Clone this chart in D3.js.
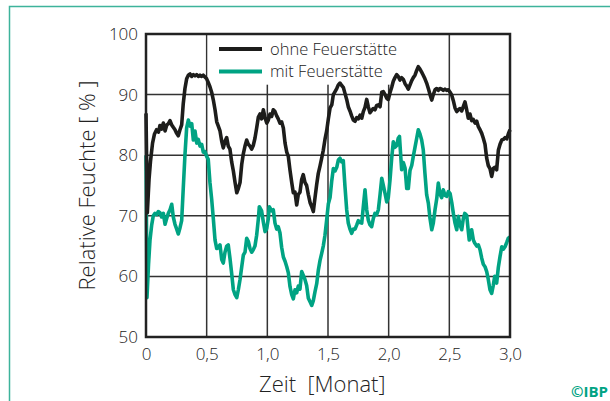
<!DOCTYPE html>
<html><head><meta charset="utf-8">
<script src="https://cdn.jsdelivr.net/npm/d3@7/dist/d3.min.js"></script>
<style>
html,body{margin:0;padding:0;background:#fff;}
svg{display:block;font-family:"Open Sans",sans-serif;font-weight:300;}
</style></head>
<body>
<svg id="c" width="610" height="401"></svg>
<script>
// ---- data ----
const seriesNames = ["ohne Feuerstätte", "mit Feuerstätte"];
const yTicks = [50, 60, 70, 80, 90, 100];
const xTicks = [0, 0.5, 1.0, 1.5, 2.0, 2.5, 3.0];
const xTickLabels = ["0", "0,5", "1,0", "1,5", "2,0", "2,5", "3,0"];

const zeitOhne = [0.000,0.011,0.025,0.037,0.054,0.070,0.087,0.103,0.115,0.128,0.143,0.157,0.171,0.185,0.198,0.212,0.225,0.239,0.253,0.266,0.280,0.294,0.307,0.321,0.335,0.349,0.363,0.377,0.390,0.404,0.418,0.431,0.445,0.459,0.472,0.486,0.500,0.513,0.527,0.541,0.555,0.569,0.583,0.596,0.610,0.624,0.637,0.651,0.665,0.678,0.692,0.706,0.720,0.734,0.748,0.761,0.775,0.789,0.802,0.816,0.830,0.843,0.857,0.871,0.884,0.898,0.912,0.926,0.940,0.953,0.967,0.981,0.995,1.008,1.022,1.036,1.049,1.063,1.077,1.090,1.104,1.118,1.132,1.146,1.160,1.173,1.187,1.201,1.214,1.228,1.242,1.255,1.269,1.283,1.296,1.310,1.324,1.338,1.352,1.366,1.379,1.393,1.407,1.420,1.434,1.448,1.461,1.475,1.489,1.503,1.517,1.531,1.544,1.558,1.572,1.585,1.599,1.613,1.626,1.640,1.654,1.667,1.681,1.695,1.709,1.723,1.737,1.750,1.764,1.778,1.791,1.805,1.819,1.832,1.846,1.860,1.873,1.887,1.901,1.915,1.929,1.943,1.956,1.970,1.984,1.997,2.011,2.025,2.038,2.052,2.066,2.079,2.093,2.107,2.121,2.135,2.149,2.162,2.176,2.190,2.203,2.217,2.231,2.244,2.258,2.272,2.285,2.299,2.313,2.327,2.341,2.355,2.368,2.382,2.396,2.409,2.423,2.437,2.450,2.464,2.478,2.492,2.506,2.520,2.533,2.547,2.561,2.574,2.588,2.602,2.615,2.629,2.643,2.656,2.670,2.684,2.698,2.712,2.726,2.739,2.753,2.767,2.780,2.794,2.808,2.821,2.835,2.849,2.862,2.876,2.890,2.904,2.918,2.932,2.945,2.959,2.973,2.986,3.000];
const ohne = [86.9,70.5,76.0,79.0,82.0,83.5,84.2,83.8,84.9,84.3,85.3,84.0,85.0,85.2,85.7,85.0,84.6,84.2,83.6,83.2,84.2,85.0,88.5,91.0,92.6,93.2,93.4,93.0,93.3,93.1,93.3,93.0,93.2,93.0,93.2,92.9,92.6,92.0,91.3,90.4,89.1,87.5,85.5,84.8,84.0,82.3,81.2,82.3,82.9,81.5,81.0,78.9,77.4,75.5,73.8,74.5,75.5,78.5,80.2,81.5,82.5,81.8,81.5,81.0,81.6,82.8,84.5,86.3,86.8,86.0,87.5,86.2,85.3,85.8,86.8,86.4,87.5,87.2,86.5,86.0,85.3,85.5,84.5,82.0,80.5,79.8,77.5,75.5,73.8,73.9,71.8,73.5,73.9,76.0,76.8,75.5,75.0,73.5,72.2,71.5,70.7,73.0,75.2,77.0,78.2,79.5,80.8,82.6,84.0,86.0,87.8,88.3,90.0,90.5,91.0,91.6,91.9,91.5,91.2,90.2,89.2,88.0,87.3,86.5,85.8,85.6,86.2,86.0,86.6,86.1,87.2,87.9,89.2,88.0,87.0,87.4,87.7,87.5,88.2,88.3,88.0,90.4,90.5,90.0,89.4,89.2,90.3,91.2,92.2,92.8,93.3,93.0,92.4,92.8,92.5,91.8,91.4,90.9,91.6,92.3,92.8,93.2,94.0,94.6,94.2,93.7,93.2,92.6,91.9,91.0,90.0,89.1,90.0,90.8,91.0,90.7,91.0,90.9,90.7,90.9,90.7,90.8,90.4,89.9,89.0,87.8,87.2,87.5,87.7,87.3,88.0,88.8,87.5,86.1,86.8,85.7,85.9,85.3,85.6,84.7,84.2,83.6,82.8,81.8,79.5,78.3,77.8,76.5,77.8,78.0,77.6,80.8,81.8,82.5,82.6,82.9,82.7,83.5,84.2];

const zeitMit = [0.000,0.008,0.021,0.033,0.047,0.060,0.074,0.088,0.101,0.115,0.129,0.143,0.157,0.171,0.184,0.198,0.212,0.225,0.239,0.253,0.266,0.280,0.294,0.307,0.321,0.335,0.349,0.363,0.377,0.390,0.404,0.418,0.431,0.445,0.459,0.472,0.486,0.500,0.513,0.527,0.541,0.555,0.569,0.583,0.596,0.610,0.624,0.637,0.651,0.665,0.678,0.692,0.706,0.720,0.734,0.748,0.761,0.775,0.789,0.802,0.816,0.830,0.843,0.857,0.871,0.884,0.898,0.912,0.926,0.934,0.953,0.967,0.981,0.995,1.008,1.016,1.036,1.049,1.063,1.077,1.090,1.104,1.118,1.132,1.146,1.160,1.173,1.187,1.201,1.214,1.228,1.242,1.255,1.269,1.283,1.296,1.310,1.324,1.338,1.352,1.366,1.379,1.393,1.407,1.420,1.434,1.448,1.461,1.475,1.489,1.503,1.517,1.531,1.544,1.558,1.572,1.585,1.599,1.613,1.626,1.640,1.654,1.667,1.681,1.695,1.709,1.723,1.737,1.750,1.764,1.778,1.791,1.805,1.819,1.832,1.846,1.860,1.873,1.887,1.901,1.915,1.929,1.943,1.956,1.970,1.984,1.997,2.011,2.025,2.038,2.052,2.066,2.079,2.089,2.107,2.121,2.135,2.149,2.162,2.176,2.190,2.203,2.217,2.231,2.244,2.258,2.272,2.285,2.299,2.313,2.327,2.341,2.355,2.368,2.382,2.396,2.409,2.423,2.437,2.450,2.464,2.478,2.492,2.506,2.520,2.533,2.547,2.561,2.574,2.588,2.602,2.615,2.627,2.643,2.656,2.664,2.684,2.698,2.709,2.726,2.739,2.753,2.767,2.780,2.794,2.808,2.821,2.835,2.849,2.862,2.874,2.890,2.904,2.918,2.932,2.945,2.959,2.973,2.986,3.000];
const mit = [80.0,56.5,62.0,66.0,68.5,70.0,70.4,70.2,70.7,70.5,69.8,70.4,68.6,69.6,70.4,71.0,71.9,69.8,68.6,67.8,67.0,68.0,69.2,74.5,80.0,84.5,85.8,84.8,85.2,82.5,84.0,82.0,82.6,81.5,81.8,80.5,80.6,79.8,79.3,75.5,72.8,69.5,66.0,64.6,64.8,65.2,62.8,62.2,64.0,65.0,65.2,63.0,60.5,57.8,57.0,56.5,57.8,59.5,61.6,63.5,64.0,66.3,65.8,64.6,64.0,64.4,65.0,66.8,69.5,71.5,70.8,69.0,67.4,67.9,69.5,71.5,70.8,71.0,68.8,67.8,68.2,67.2,64.8,63.2,62.5,61.6,60.6,58.3,57.0,56.3,57.8,57.3,58.4,57.9,60.8,60.2,59.5,58.5,56.4,55.8,55.2,56.0,57.5,58.8,61.0,62.6,63.8,65.0,66.8,69.3,72.0,73.0,75.8,77.8,77.4,78.0,79.2,79.5,78.9,79.1,74.8,71.0,68.8,67.8,67.1,67.8,67.8,68.5,69.2,68.9,68.8,71.5,74.3,71.0,69.3,68.5,68.2,69.5,70.4,70.2,71.0,73.5,76.2,75.0,73.7,72.3,73.0,75.9,79.5,82.2,81.3,81.6,82.8,83.1,77.6,78.8,77.9,74.5,74.5,77.5,78.3,79.8,81.3,82.8,84.2,83.5,82.5,80.9,77.0,73.5,72.1,69.5,67.7,68.8,71.0,72.8,75.4,73.6,73.0,74.3,73.4,73.2,74.0,73.7,72.2,70.4,68.8,67.7,69.9,68.5,67.7,69.5,70.4,70.1,67.5,66.0,67.7,66.0,65.5,65.0,65.2,64.4,63.0,62.0,61.6,60.8,59.5,57.8,57.2,58.5,60.0,58.9,61.5,63.3,64.9,64.5,64.9,65.6,66.3,66.5];

// ---- drawing ----
const svg = d3.select("#c");
const teal = "#00a383";
const dark = "#1d1d1b";
const textCol = "#222";

// outer frame
svg.append("rect").attr("x", 9.5).attr("y", 6.5).attr("width", 700).attr("height", 500)
  .attr("fill", "none").attr("stroke", "#3db39b").attr("stroke-width", 1.5);

const x = d3.scaleLinear().domain([0, 3]).range([146, 510]);
const y = d3.scaleLinear().domain([50, 100]).range([337, 34]);

// grid
const g = svg.append("g");
g.selectAll("line.h").data(yTicks.slice(1, -1)).join("line")
  .attr("x1", x(0)).attr("x2", x(3)).attr("y1", d => y(d)).attr("y2", d => y(d))
  .attr("stroke", "#333").attr("stroke-width", 1.5);
g.selectAll("line.v").data(xTicks.slice(1, -1)).join("line")
  .attr("y1", y(50)).attr("y2", y(100)).attr("x1", d => x(d)).attr("x2", d => x(d))
  .attr("stroke", "#333").attr("stroke-width", 1.5);

// legend background
svg.append("rect").attr("x", x(0.5) + 1).attr("y", y(100) + 1)
  .attr("width", x(2.05) - x(0.5) - 1).attr("height", y(91.8) - y(100))
  .attr("fill", "#fff");

// series
const line = d3.line().x(d => x(d[0])).y(d => y(d[1])).curve(d3.curveLinear);
const dOhne = zeitOhne.map((t, i) => [t, ohne[i]]);
const dMit = zeitMit.map((t, i) => [t, mit[i]]);
svg.append("path").datum(dMit).attr("d", line).attr("fill", "none")
  .attr("stroke", teal).attr("stroke-width", 3.6).attr("stroke-linejoin", "round");
svg.append("path").datum(dOhne).attr("d", line).attr("fill", "none")
  .attr("stroke", dark).attr("stroke-width", 3.6).attr("stroke-linejoin", "round");

// frame / axes
svg.append("rect").attr("x", x(0)).attr("y", y(100)).attr("width", x(3) - x(0)).attr("height", y(50) - y(100))
  .attr("fill", "none").attr("stroke", "#222").attr("stroke-width", 2.5);

// axis labels via d3 axes
const yAxis = d3.axisLeft(y).tickValues(yTicks).tickSize(0).tickPadding(8);
svg.append("g").attr("transform", `translate(${x(0)},0)`).call(yAxis)
  .call(s => s.select(".domain").remove())
  .selectAll("text").attr("font-size", 17).attr("fill", textCol)
  .attr("font-family", "'Open Sans', sans-serif").attr("font-weight", 300);

const xAxis = d3.axisBottom(x).tickValues(xTicks).tickFormat((d, i) => xTickLabels[i]).tickSize(0).tickPadding(11);
svg.append("g").attr("transform", `translate(0,${y(50)})`).call(xAxis)
  .call(s => s.select(".domain").remove())
  .selectAll("text").attr("font-size", 17).attr("fill", textCol)
  .attr("font-family", "'Open Sans', sans-serif").attr("font-weight", 300);

// titles
svg.append("text").attr("x", 259).attr("y", 392).attr("font-size", 22).attr("fill", textCol)
  .attr("xml:space", "preserve").text("Zeit  [Monat]");
svg.append("text").attr("transform", `translate(95,${(y(50) + y(100)) / 2}) rotate(-90)`)
  .attr("text-anchor", "middle").attr("font-size", 22).attr("fill", textCol)
  .text("Relative Feuchte [ % ]");

// legend
const leg = svg.append("g");
[dark, teal].forEach((c, i) => {
  const ly = 49 + i * 22.5;
  leg.append("line").attr("x1", 219).attr("x2", 262).attr("y1", ly).attr("y2", ly)
    .attr("stroke", c).attr("stroke-width", 4);
  leg.append("text").attr("x", 270).attr("y", ly + 5.5).attr("font-size", 16.5).attr("fill", textCol)
    .text(seriesNames[i]);
});

// copyright
svg.append("text").attr("x", 608).attr("y", 397).attr("text-anchor", "end")
  .attr("font-size", 15).attr("font-weight", "bold")
  .attr("fill", teal).text("©IBP");
</script>
</body></html>
